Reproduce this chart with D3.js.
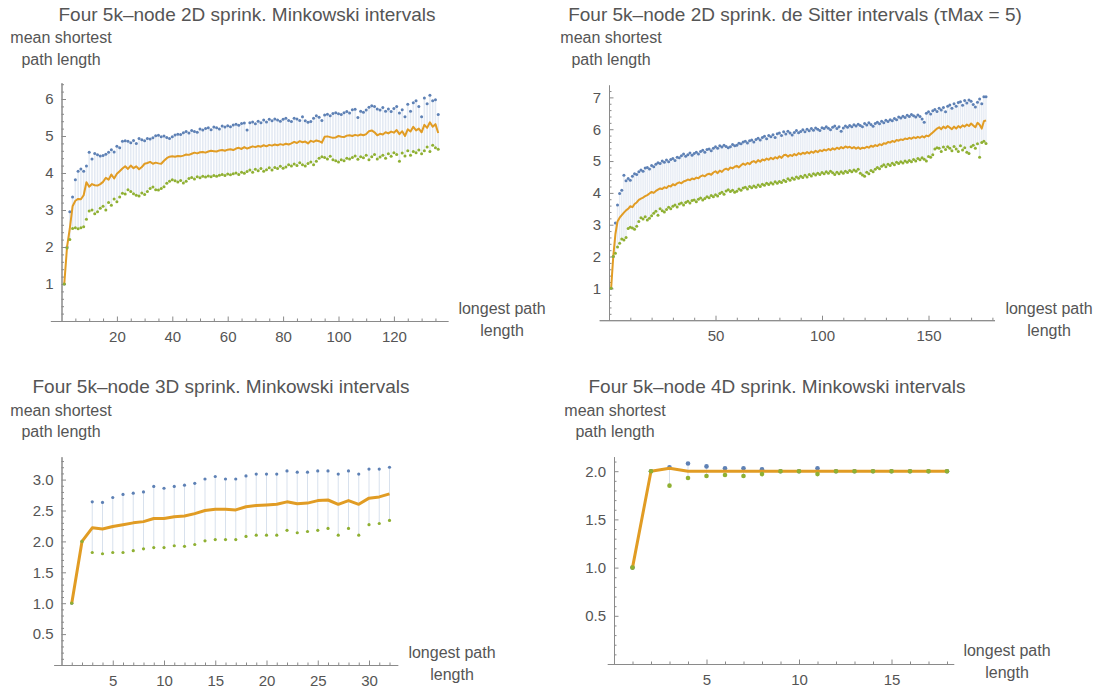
<!DOCTYPE html>
<html><head><meta charset="utf-8">
<script src="https://cdn.jsdelivr.net/npm/d3@7"></script>
<style>
body{margin:0;background:#fff;}
svg{display:block;font-family:"Liberation Sans",Arial,sans-serif;}
.ax .domain,.ax line{stroke:#8a8a8a;stroke-width:1;}
.ax text{fill:#555;font-size:15px;font-family:"Liberation Sans",Arial,sans-serif;}
</style></head><body>
<svg id="c" width="1096" height="692"></svg>
<script>
// ---------- text ----------
const titles = [
  "Four 5k\u2013node 2D sprink. Minkowski intervals",
  "Four 5k\u2013node 2D sprink. de Sitter intervals (\u03c4Max = 5)",
  "Four 5k\u2013node 3D sprink. Minkowski intervals",
  "Four 5k\u2013node 4D sprink. Minkowski intervals"
];
const yLabelLines = ["mean shortest", "path length"];
const xLabelLines = ["longest path", "length"];

// ---------- tick labels ----------
const p1XTicks = [20, 40, 60, 80, 100, 120];
const p1YTicks = [1, 2, 3, 4, 5, 6];
const p2XTicks = [50, 100, 150];
const p2YTicks = [1, 2, 3, 4, 5, 6, 7];
const p3XTicks = [5, 10, 15, 20, 25, 30];
const p3YTicks = [0.5, 1.0, 1.5, 2.0, 2.5, 3.0];
const p4XTicks = [5, 10, 15];
const p4YTicks = [0.5, 1.0, 1.5, 2.0];

// ---------- data (x = 1, 2, 3, ... longest path length) ----------
// Panel 1: 2D Minkowski
const p1Max = [
1.00,2.00,2.95,3.35,3.82,4.05,4.11,4.05,4.19,4.56,
4.38,4.53,4.49,4.46,4.47,4.51,4.56,4.63,4.57,4.72,
4.68,4.86,4.87,4.86,4.82,4.88,4.80,4.93,4.90,4.87,
4.93,4.92,4.95,5.01,5.02,4.98,5.00,4.96,4.93,4.98,
5.03,5.05,5.04,5.09,5.12,5.08,5.15,5.12,5.10,5.19,
5.16,5.20,5.22,5.17,5.24,5.22,5.19,5.27,5.24,5.28,
5.25,5.30,5.32,5.29,5.34,5.35,5.16,5.36,5.38,5.33,
5.40,5.36,5.43,5.38,5.45,5.41,5.46,5.43,5.40,5.45,
5.48,5.42,5.39,5.48,5.46,5.42,5.52,5.41,5.37,5.39,
5.48,5.55,5.51,5.42,5.57,5.59,5.55,5.61,5.63,5.60,
5.58,5.63,5.66,5.62,5.71,5.72,5.50,5.67,5.64,5.70,
5.78,5.82,5.80,5.73,5.70,5.77,5.67,5.73,5.66,5.74,
5.80,5.62,5.71,5.52,5.86,5.67,5.90,5.95,5.80,5.52,
6.03,5.87,6.10,5.95,5.98,5.58];
const p1Mean = [
1.00,2.00,2.50,3.10,3.25,3.30,3.29,3.40,3.75,3.63,
3.70,3.67,3.66,3.70,3.76,3.87,3.82,3.96,3.85,3.98,
4.05,4.12,4.18,4.11,4.20,4.13,4.18,4.10,4.16,4.25,
4.27,4.30,4.25,4.28,4.26,4.25,4.33,4.40,4.44,4.45,
4.44,4.46,4.45,4.47,4.50,4.49,4.52,4.55,4.53,4.56,
4.57,4.55,4.58,4.60,4.59,4.58,4.61,4.62,4.60,4.63,
4.64,4.62,4.66,4.68,4.65,4.70,4.66,4.69,4.72,4.70,
4.73,4.71,4.75,4.72,4.76,4.74,4.77,4.75,4.78,4.76,
4.79,4.77,4.80,4.84,4.81,4.86,4.83,4.85,4.80,4.87,
4.84,4.88,4.86,4.82,4.98,4.99,4.97,4.95,4.96,5.00,
4.98,4.97,5.01,5.02,5.00,5.03,5.01,5.04,5.02,5.05,
5.13,5.15,5.10,5.02,5.06,5.04,5.10,5.07,5.12,5.09,
5.16,5.05,5.13,5.00,5.18,5.12,5.25,5.15,5.20,5.10,
5.30,5.22,5.37,5.25,5.32,5.08];
const p1Min = [
1.00,1.97,2.20,2.50,2.52,2.49,2.52,2.55,2.75,2.97,
3.00,2.90,2.95,3.05,3.10,3.00,3.20,3.13,3.30,3.22,
3.35,3.45,3.43,3.55,3.50,3.44,3.40,3.38,3.46,3.42,
3.50,3.58,3.62,3.55,3.54,3.58,3.63,3.72,3.78,3.82,
3.79,3.76,3.80,3.73,3.78,3.85,3.88,3.84,3.90,3.87,
3.91,3.89,3.92,3.90,3.93,3.91,3.94,3.96,3.93,3.97,
3.95,3.98,4.00,3.96,4.02,3.99,4.04,4.08,4.02,4.10,
4.06,4.12,4.05,4.09,4.14,4.08,4.15,4.12,4.18,4.13,
4.16,4.22,4.19,4.24,4.20,4.28,4.22,4.19,4.26,4.30,
4.22,4.32,4.40,4.44,4.42,4.38,4.45,4.36,4.33,4.30,
4.36,4.33,4.40,4.38,4.42,4.46,4.37,4.44,4.41,4.48,
4.36,4.44,4.50,4.38,4.43,4.48,4.40,4.52,4.45,4.55,
4.50,4.32,4.54,4.46,4.60,4.48,4.58,4.55,4.62,4.52,
4.60,4.70,4.58,4.75,4.68,4.64];

// Panel 2: 2D de Sitter
const p2Max = [
1.00,2.00,3.05,3.62,3.98,4.08,4.55,4.38,4.45,4.40,
4.52,4.60,4.58,4.66,4.72,4.68,4.78,4.80,4.75,4.86,
4.82,4.90,4.95,4.92,5.00,4.96,5.03,4.98,5.05,5.08,
5.02,5.12,5.10,5.17,5.22,5.15,5.20,5.25,5.18,5.24,
5.28,5.22,5.30,5.34,5.28,5.36,5.38,5.32,5.40,5.45,
5.40,5.48,5.44,5.50,5.46,5.42,5.45,5.52,5.48,5.50,
5.56,5.54,5.60,5.62,5.57,5.64,5.66,5.60,5.68,5.72,
5.66,5.74,5.78,5.70,5.80,5.76,5.83,5.74,5.86,5.88,
5.80,5.92,5.85,5.94,5.88,5.82,5.90,5.96,5.89,5.93,
5.98,5.92,6.00,5.95,6.02,5.97,6.04,6.00,5.96,6.05,
6.02,6.08,6.03,5.98,6.06,6.10,6.02,6.08,5.94,6.04,
6.10,6.06,6.12,6.08,6.14,6.10,6.16,6.12,6.08,6.18,
6.13,6.20,6.15,6.09,6.18,6.22,6.17,6.25,6.20,6.28,
6.24,6.30,6.27,6.34,6.30,6.38,6.35,6.41,6.37,6.44,
6.40,6.46,6.42,6.38,6.45,6.40,6.32,6.22,6.50,6.55,
6.48,6.58,6.62,6.56,6.66,6.60,6.68,6.55,6.72,6.76,
6.66,6.80,6.72,6.84,6.86,6.75,6.90,6.82,6.92,6.88,
6.78,6.70,6.85,6.95,6.80,7.02,7.02];
const p2Mean = [
1.00,2.00,2.70,3.10,3.22,3.30,3.38,3.45,3.50,3.58,
3.55,3.65,3.70,3.78,3.82,3.85,3.90,3.93,3.98,4.03,
4.00,4.06,4.10,4.14,4.12,4.18,4.15,4.22,4.20,4.27,
4.24,4.30,4.33,4.30,4.36,4.38,4.42,4.40,4.45,4.43,
4.48,4.46,4.52,4.55,4.52,4.58,4.60,4.57,4.64,4.68,
4.62,4.70,4.66,4.73,4.76,4.72,4.80,4.77,4.82,4.85,
4.80,4.87,4.92,4.88,4.94,4.90,4.97,5.00,4.95,5.03,
4.98,5.05,5.02,5.08,5.04,5.10,5.06,5.12,5.08,5.15,
5.10,5.18,5.20,5.14,5.19,5.16,5.22,5.18,5.25,5.21,
5.26,5.23,5.28,5.24,5.30,5.26,5.32,5.28,5.34,5.31,
5.36,5.33,5.38,5.34,5.40,5.36,5.42,5.38,5.44,5.40,
5.46,5.42,5.45,5.40,5.44,5.39,5.43,5.38,5.42,5.40,
5.45,5.42,5.48,5.45,5.50,5.47,5.53,5.50,5.56,5.54,
5.60,5.58,5.63,5.60,5.66,5.64,5.68,5.66,5.71,5.69,
5.73,5.70,5.75,5.72,5.76,5.73,5.78,5.74,5.80,5.78,
5.84,5.90,5.96,6.02,6.06,6.00,6.08,6.03,6.10,6.05,
6.00,6.08,6.02,6.10,6.05,6.12,6.08,6.15,6.10,6.18,
6.12,6.06,6.20,6.14,6.02,6.25,6.28];
const p2Min = [
1.00,2.00,2.10,2.30,2.42,2.55,2.52,2.60,2.88,2.92,
2.90,2.86,2.95,3.10,3.22,3.18,3.25,3.15,3.20,3.28,
3.36,3.42,3.30,3.50,3.44,3.40,3.48,3.55,3.50,3.58,
3.62,3.56,3.65,3.68,3.62,3.70,3.74,3.68,3.76,3.78,
3.72,3.80,3.84,3.78,3.82,3.88,3.85,3.92,3.88,3.94,
3.90,3.98,4.02,3.96,4.06,4.10,4.04,4.08,4.02,4.05,
4.12,4.08,4.15,4.18,4.12,4.20,4.16,4.22,4.18,4.25,
4.20,4.27,4.24,4.30,4.26,4.32,4.28,4.35,4.30,4.36,
4.33,4.40,4.36,4.44,4.40,4.47,4.43,4.50,4.46,4.52,
4.48,4.55,4.50,4.58,4.53,4.60,4.56,4.62,4.58,4.64,
4.60,4.66,4.62,4.68,4.63,4.58,4.65,4.60,4.66,4.62,
4.68,4.64,4.70,4.66,4.72,4.68,4.74,4.62,4.56,4.52,
4.65,4.60,4.70,4.66,4.74,4.80,4.76,4.84,4.88,4.82,
4.90,4.86,4.93,4.88,4.96,4.92,4.98,4.94,5.00,4.96,
5.02,4.98,5.05,5.00,5.08,5.04,5.10,5.06,5.00,5.14,
5.12,5.20,5.38,5.42,5.40,5.30,5.44,5.36,5.45,5.40,
5.32,5.46,5.38,5.30,5.48,5.35,5.42,5.28,5.24,5.45,
5.50,5.40,5.54,5.12,5.58,5.62,5.55];

// Panel 3: 3D Minkowski
const p3Max  = [1.00,2.00,2.64,2.63,2.71,2.76,2.78,2.80,2.89,2.86,2.89,2.91,2.94,3.01,3.05,3.01,3.01,3.06,3.09,3.09,3.09,3.14,3.12,3.12,3.14,3.14,3.09,3.14,3.09,3.17,3.17,3.20];
const p3Mean = [1.00,2.00,2.22,2.20,2.24,2.27,2.30,2.32,2.37,2.37,2.40,2.41,2.45,2.50,2.52,2.52,2.51,2.56,2.58,2.59,2.60,2.64,2.61,2.62,2.66,2.67,2.60,2.66,2.60,2.70,2.72,2.77];
const p3Min  = [1.00,2.00,1.82,1.80,1.82,1.82,1.85,1.88,1.90,1.90,1.93,1.92,1.95,2.01,2.03,2.03,2.03,2.08,2.10,2.10,2.10,2.18,2.14,2.16,2.18,2.21,2.10,2.21,2.10,2.27,2.29,2.34];

// Panel 4: 4D Minkowski
const p4Max  = [1.00,2.00,2.04,2.08,2.05,2.03,2.03,2.02,2.00,2.00,2.03,2.00,2.00,2.00,2.00,2.00,2.00,2.00];
const p4Mean = [1.00,2.00,2.03,2.00,2.00,2.00,2.00,2.00,2.00,2.00,2.00,2.00,2.00,2.00,2.00,2.00,2.00,2.00];
const p4Min  = [1.00,2.00,1.85,1.93,1.95,1.96,1.95,1.97,2.00,2.00,1.97,2.00,2.00,2.00,2.00,2.00,2.00,2.00];

// ---------- colours ----------
const cMax = "#5e81b5", cMean = "#e19c24", cMin = "#8fb032";

// ---------- layout (pixel geometry only) ----------
const panels = [
  {title: titles[0], max: p1Max, mean: p1Mean, min: p1Min, xTicks: p1XTicks, yTicks: p1YTicks,
   xMinor: 5, yMinor: 0.2, yFmt: d3.format("d"),
   x0: 61.5, xUnit: 2.77, xDom: [-4, 139.5], y0: 321, yUnit: 37, yTop: 6.44,
   titleX: 247, titleY: 21, yLabX: 61, yLabY: [43, 65], xLabX: 502, xLabY: [314, 336],
   r: 1.5, lw: 2, bandOp: 0.17, bandW: 1.6},
  {title: titles[1], max: p2Max, mean: p2Mean, min: p2Min, xTicks: p2XTicks, yTicks: p2YTicks,
   xMinor: 10, yMinor: 0.2, yFmt: d3.format("d"),
   x0: 609, xUnit: 2.13, xDom: [-4.6, 181], y0: 320.2, yUnit: 31.83, yTop: 7.39,
   titleX: 795, titleY: 21, yLabX: 611, yLabY: [43, 65], xLabX: 1049, xLabY: [314, 336],
   r: 1.5, lw: 2, bandOp: 0.15, bandW: 1.4},
  {title: titles[2], max: p3Max, mean: p3Mean, min: p3Min, xTicks: p3XTicks, yTicks: p3YTicks,
   xMinor: 1, yMinor: 0.1, yFmt: d3.format(".1f"),
   x0: 61.5, xUnit: 10.25, xDom: [-0.75, 32.8], y0: 665, yUnit: 61.8, yTop: 3.37,
   titleX: 221, titleY: 393, yLabX: 61, yLabY: [416, 437], xLabX: 452, xLabY: [658, 680],
   r: 1.6, lw: 3, bandOp: 0.24, bandW: 1},
  {title: titles[3], max: p4Max, mean: p4Mean, min: p4Min, xTicks: p4XTicks, yTicks: p4YTicks,
   xMinor: 1, yMinor: 0.1, yFmt: d3.format(".1f"),
   x0: 614, xUnit: 18.5, xDom: [-0.36, 18.36], y0: 664, yUnit: 96.4, yTop: 2.15,
   titleX: 777, titleY: 393, yLabX: 615, yLabY: [416, 437], xLabX: 1007, xLabY: [656, 678],
   r: 2.3, lw: 3, bandOp: 0.24, bandW: 1}
];

const svg = d3.select("#c");

function minorTicks(lo, hi, step, majors) {
  const out = [];
  const n = Math.floor((hi - lo) / step + 1e-9);
  for (let i = 0; i <= n; i++) {
    const v = +(Math.ceil(lo / step) * step + i * step).toFixed(6);
    if (v > hi + 1e-9) break;
    if (Math.abs(v) < 1e-9) continue;
    if (majors.some(m => Math.abs(m - v) < 1e-6)) continue;
    out.push(v);
  }
  return out;
}

panels.forEach(p => {
  const g = svg.append("g");
  const x = d3.scaleLinear().domain(p.xDom)
    .range([p.x0 + p.xDom[0] * p.xUnit, p.x0 + p.xDom[1] * p.xUnit]);
  const y = d3.scaleLinear().domain([0, p.yTop]).range([p.y0, p.y0 - p.yTop * p.yUnit]);

  const rows = p.mean.map((m, i) => ({x: i + 1, max: p.max[i], mean: m, min: p.min[i]}));

  // filling between max and min
  g.append("g").selectAll("line").data(rows).join("line")
    .attr("x1", d => x(d.x)).attr("x2", d => x(d.x))
    .attr("y1", d => y(d.max)).attr("y2", d => y(d.min))
    .attr("stroke", cMax).attr("stroke-opacity", p.bandOp).attr("stroke-width", p.bandW);

  // axes
  const xMaj = p.xTicks, yMaj = p.yTicks;
  const xMin = minorTicks(0, p.xDom[1], p.xMinor, xMaj);
  const yMin = minorTicks(0, p.yTop, p.yMinor, yMaj);

  g.append("g").attr("class", "ax").attr("transform", `translate(0,${y(0)})`)
    .call(d3.axisBottom(x).tickValues(xMin).tickSize(-2.5).tickSizeOuter(0).tickFormat(""));
  g.append("g").attr("class", "ax").attr("transform", `translate(0,${y(0)})`)
    .call(d3.axisBottom(x).tickValues(xMaj).tickSize(-4.5).tickSizeOuter(0).tickPadding(10).tickFormat(d3.format("d")));
  g.append("g").attr("class", "ax").attr("transform", `translate(${x(0)},0)`)
    .call(d3.axisLeft(y).tickValues(yMin).tickSize(-2.5).tickSizeOuter(0).tickFormat(""));
  g.append("g").attr("class", "ax").attr("transform", `translate(${x(0)},0)`)
    .call(d3.axisLeft(y).tickValues(yMaj).tickSize(-4.5).tickSizeOuter(0).tickPadding(8).tickFormat(p.yFmt));

  // max points
  g.append("g").selectAll("circle").data(rows).join("circle")
    .attr("cx", d => x(d.x)).attr("cy", d => y(d.max)).attr("r", p.r).attr("fill", cMax);

  // mean line
  g.append("path").datum(rows)
    .attr("d", d3.line().x(d => x(d.x)).y(d => y(d.mean)))
    .attr("fill", "none").attr("stroke", cMean).attr("stroke-width", p.lw)
    .attr("stroke-linejoin", "round");

  // min points
  g.append("g").selectAll("circle").data(rows).join("circle")
    .attr("cx", d => x(d.x)).attr("cy", d => y(d.min)).attr("r", p.r).attr("fill", cMin);

  // title
  g.append("text").attr("x", p.titleX).attr("y", p.titleY).attr("text-anchor", "middle")
    .attr("fill", "#555").attr("font-size", 19).text(p.title);

  // y label
  yLabelLines.forEach((t, i) => g.append("text").attr("x", p.yLabX).attr("y", p.yLabY[i])
    .attr("text-anchor", "middle").attr("fill", "#555").attr("font-size", 16).text(t));
  // x label
  xLabelLines.forEach((t, i) => g.append("text").attr("x", p.xLabX).attr("y", p.xLabY[i])
    .attr("text-anchor", "middle").attr("fill", "#555").attr("font-size", 16).text(t));
});
</script>
</body></html>
